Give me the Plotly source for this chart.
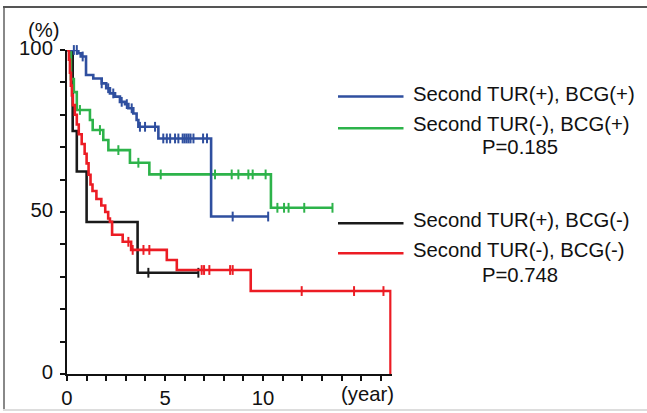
import numpy as np
import plotly.graph_objects as go

# ---- data ----
blue_t = [0, 0.58, 0.7, 0.97, 1.34, 1.77, 2.0, 2.19, 2.45, 2.7, 2.96, 3.13, 3.38, 3.55, 3.64, 4.66, 7.35]
blue_s = [100, 99, 98, 92.3, 91.2, 89.7, 88.2, 86.6, 85.6, 84, 83.3, 82, 80.4, 78.4, 76.3, 72.7, 48.6]
blue_end = 10.26
blue_cens = [0.35, 0.5, 0.8, 1.77, 2.1, 2.36, 2.79, 3.05, 3.3, 3.72, 3.98, 4.49, 4.91, 5.09, 5.26,
             5.51, 5.68, 5.9, 6.0, 6.1, 6.2, 6.3, 6.45, 6.94, 7.14, 8.45, 10.26]

green_t = [0, 0.2, 0.35, 0.5, 1.17, 1.31, 1.85, 2.11, 3.21, 4.2, 10.4]
green_s = [100, 91, 87, 81.5, 78.4, 75.3, 72.2, 69.1, 65.2, 61.6, 51.3]
green_end = 13.55
green_cens = [0.66, 1.68, 2.62, 3.64, 4.78, 7.55, 8.4, 8.74, 9.25, 9.47, 10.13,
              10.73, 11.07, 11.3, 12.1, 13.54]

black_t = [0, 0.29, 0.5, 1.0, 3.6]
black_s = [100, 75, 62.5, 46.9, 31.25]
black_end = 6.7
black_cens = [4.15, 6.7]

red_t = [0, 0.1, 0.15, 0.2, 0.25, 0.3, 0.4, 0.5, 0.6, 0.75, 0.9, 1.0, 1.1, 1.2, 1.3, 1.5,
         1.75, 1.95, 2.1, 2.19, 2.3, 2.84, 3.27, 5.09, 5.6, 9.37, 16.5]
red_s = [100, 97, 93, 89, 86, 83, 80, 77, 74, 71, 68, 65, 61.5, 58.5, 56.5, 54,
         52, 50, 48, 47, 43, 40.8, 38.3, 35.2, 32.1, 25.6, 0]
red_end = 16.5
red_cens = [3.13, 3.35, 3.9, 4.2, 6.87, 6.99, 7.26, 8.32, 8.45, 11.97, 14.64, 16.14]

series = [
    ("Second TUR(+), BCG(-)", black_t, black_s, black_end, black_cens, "#1a1a1a"),
    ("Second TUR(-), BCG(+)", green_t, green_s, green_end, green_cens, "#2db34a"),
    ("Second TUR(+), BCG(+)", blue_t, blue_s, blue_end, blue_cens, "#2f4f9f"),
    ("Second TUR(-), BCG(-)", red_t, red_s, red_end, red_cens, "#ec1c24"),
]

x_ticks = list(range(0, 17))
x_labels = ["0", "", "", "", "", "5", "", "", "", "", "10", "", "", "", "", "", ""]
y_ticks = list(range(0, 101, 10))
y_labels = ["0", "", "", "", "", "50", "", "", "", "", "100"]

legend_items = [
    ("Second TUR(+), BCG(+)", "#2f4f9f", 96.5, 93.5),
    ("Second TUR(-), BCG(+)", "#2db34a", 128.3, 123.5),
    ("Second TUR(+), BCG(-)", "#1a1a1a", 223.3, 220.0),
    ("Second TUR(-), BCG(-)", "#ec1c24", 253.3, 250.0),
]
p_values = [("P=0.185", 146.7), ("P=0.748", 275.0)]

FONT = "Arial, Liberation Sans, Helvetica, sans-serif"
FS = 20.3

# ---- layout geometry (pixels) ----
W, H = 647, 413
L, R, T, B = 67, 391.5, 50, 374
XMAX = 16.55

def fx(xp):
    return xp / W

def fy(yp):
    return 1 - yp / H

fig = go.Figure()

for name, t, s, end, cens, col in series:
    xs = list(t) + ([end] if end > t[-1] else [])
    ys = list(s) + ([s[-1]] if end > t[-1] else [])
    fig.add_trace(go.Scatter(x=xs, y=ys, mode="lines", line=dict(color=col, width=2.6, shape="hv"),
                             name=name, showlegend=False, cliponaxis=False, hoverinfo="skip"))
    ta = np.array(t, dtype=float)
    sa = np.array(s, dtype=float)
    idx = np.searchsorted(ta, np.array(cens), side="right") - 1
    cy = sa[idx]
    fig.add_trace(go.Scatter(x=cens, y=cy, mode="markers",
                             marker=dict(symbol="line-ns", size=7, line=dict(color=col, width=2)),
                             showlegend=False, cliponaxis=False, hoverinfo="skip"))

# empty traces that carry the frame axes
fig.add_trace(go.Scatter(x=[None], y=[None], xaxis="x2", yaxis="y2", showlegend=False, hoverinfo="skip"))
fig.add_trace(go.Scatter(x=[None], y=[None], xaxis="x3", yaxis="y2", showlegend=False, hoverinfo="skip"))

shapes = []
annotations = []
for text, col, ly, ty in legend_items:
    shapes.append(dict(type="line", xref="paper", yref="paper", x0=fx(338), x1=fx(403.5), y0=fy(ly), y1=fy(ly),
                       line=dict(color=col, width=2.6)))
    annotations.append(dict(text=text, xref="paper", yref="paper", x=fx(410.5), y=fy(ty),
                            xanchor="left", yanchor="middle", showarrow=False,
                            font=dict(family=FONT, size=FS, color="#111111")))
for text, ty in p_values:
    annotations.append(dict(text=text, xref="paper", yref="paper", x=fx(520), y=fy(ty),
                            xanchor="center", yanchor="middle", showarrow=False,
                            font=dict(family=FONT, size=FS, color="#111111")))

annotations.append(dict(text="(%)", xref="paper", yref="paper", x=fx(44), y=fy(30),
                        xanchor="center", yanchor="middle", showarrow=False,
                        font=dict(family=FONT, size=FS, color="#111111")))
annotations.append(dict(text="(year)", xref="paper", yref="paper", x=fx(367), y=fy(393.5),
                        xanchor="center", yanchor="middle", showarrow=False,
                        font=dict(family=FONT, size=FS, color="#111111")))

frame_x = [fx(5), 1.0]
frame_y = [fy(408.5), fy(8)]

fig.update_layout(
    width=W, height=H,
    margin=dict(l=0, r=0, t=0, b=0, pad=0),
    paper_bgcolor="white", plot_bgcolor="rgba(0,0,0,0)",
    shapes=shapes, annotations=annotations,
    font=dict(family=FONT, size=FS, color="#111111"),
    xaxis=dict(domain=[fx(L), fx(R)], anchor="y", range=[0, XMAX], tickvals=x_ticks, ticktext=x_labels,
               ticks="outside", ticklen=5, tickwidth=2, tickcolor="#111111", showline=True,
               linecolor="#111111", linewidth=2, showgrid=False, zeroline=False, fixedrange=True,
               automargin=False),
    yaxis=dict(domain=[fy(B), fy(T)], anchor="x", range=[0, 100], tickvals=y_ticks, ticktext=y_labels,
               ticks="outside", ticklen=5, tickwidth=2, tickcolor="#111111", showline=True,
               linecolor="#111111", linewidth=2, showgrid=False, zeroline=False, fixedrange=True,
               automargin=False, ticklabelstandoff=3, ticklabelshift=-2),
    xaxis2=dict(domain=frame_x, anchor="y2", side="top", range=[0, 1], showline=True,
                linecolor="#555555", linewidth=1.5, showticklabels=False, ticks="", showgrid=False,
                zeroline=False, fixedrange=True),
    xaxis3=dict(domain=frame_x, anchor="y2", side="bottom", overlaying="x2", range=[0, 1], showline=True,
                linecolor="#dddddd", linewidth=1.5, showticklabels=False, ticks="", showgrid=False,
                zeroline=False, fixedrange=True),
    yaxis2=dict(domain=frame_y, anchor="x2", side="left", range=[0, 1], showline=True,
                linecolor="#888888", linewidth=2, showticklabels=False, ticks="", showgrid=False,
                zeroline=False, fixedrange=True),
)

fig.write_html("out.html", config={"displayModeBar": False},
               post_script="document.body.style.margin='0';document.body.style.padding='0';"
                           "document.body.style.overflow='hidden';"
                           "document.documentElement.style.overflow='hidden';")
